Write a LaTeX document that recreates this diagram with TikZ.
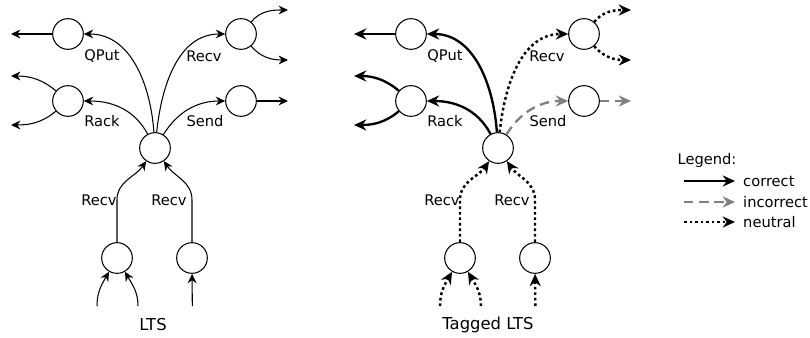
\documentclass[tikz,border=0pt]{standalone}
\usepackage{fontspec}
\setmainfont{DejaVu Sans}
\usepackage{tikz}
\usetikzlibrary{arrows.meta,calc,positioning}
\tikzset{
    % state of the LTS (empty circle)
    state/.style = {draw, circle, line width=0.9pt, minimum size=0.92cm, inner sep=0},
    % plain transition (untagged LTS)
    plain/.style = {line width=0.9pt, -{Stealth[length=8pt,width=7.5pt]}},
    % tagged transitions
    correct/.style = {line width=2pt, -{Stealth[length=10.5pt,width=9.5pt]}},
    incorrect/.style = {line width=2pt, gray, dash pattern=on 8pt off 5pt, -{Stealth[length=10.5pt,width=9.5pt]}},
    neutral/.style = {line width=2.1pt, dash pattern=on 2.3pt off 2.4pt, -{Stealth[length=10.5pt,width=9.5pt]}},
    % transition label
    tlabel/.style = {font=\fontsize{12.5}{14}\selectfont, inner sep=0},
    % caption under each LTS
    caption/.style = {font=\fontsize{14}{16}\selectfont, inner sep=0}
}

\begin{document}
\begin{tikzpicture}[x=0.03cm, y=0.03cm]
\useasboundingbox (0,0) rectangle (810,-338);

% both LTS: name prefix / x offset / style of each tag
\foreach \p/\dx/\cs/\ns/\is in {L/0/plain/plain/plain, T/343/correct/neutral/incorrect}{
  \node [state] (\p c) at (155+\dx,-148) {};
  \node [state] (\p q) at (68+\dx,-34) {};
  \node [state] (\p r) at (68+\dx,-101) {};
  \node [state] (\p v) at (241+\dx,-34) {};
  \node [state] (\p s) at (241+\dx,-101) {};
  \node [state] (\p bl) at (117+\dx,-258) {};
  \node [state] (\p br) at (192+\dx,-258) {};

  % loose ends
  \coordinate (\p q0) at (11+\dx,-34);
  \coordinate (\p r1) at (11+\dx,-76);
  \coordinate (\p r2) at (11+\dx,-125);
  \coordinate (\p v1) at (288+\dx,-10);
  \coordinate (\p v2) at (288+\dx,-60);
  \coordinate (\p s0) at (288+\dx,-101);
  \coordinate (\p i1) at (97+\dx,-306);
  \coordinate (\p i2) at (138+\dx,-306);
  \coordinate (\p i3) at (192.3+\dx,-306);

  \draw [\cs] (\p c) to[out=94,in=0] (\p q);
  \draw [\cs] (\p c) to[out=118,in=0] (\p r);
  \draw [\ns] (\p c) to[out=84,in=180] (\p v);
  \draw [\is] (\p c) to[out=58,in=180] (\p s);

  \draw [\cs] (\p q) -- (\p q0);
  \draw [\cs] (\p r) to[out=140,in=0] (\p r1);
  \draw [\cs] (\p r) to[out=220,in=0] (\p r2);
  \draw [\ns] (\p v) to[out=50,in=180] (\p v1);
  \draw [\ns] (\p v) to[out=-50,in=180] (\p v2);
  \draw [\is] (\p s) -- (\p s0);

  \draw [\ns] (\p bl.north) -- ++(0,42) to[out=90,in=236] (\p c);
  \draw [\ns] (\p br.north) -- ++(0,42) to[out=90,in=304] (\p c);
  \draw [\ns] (\p i1) to[out=90,in=240] (\p bl);
  \draw [\ns] (\p i2) to[out=90,in=300] (\p bl);
  \draw [\ns] (\p i3) -- (\p br);

  \foreach \i/\x/\y/\txt in {lq/102/-56/QPut, lr/102/-121/Rack, lv/204/-56/Recv, ls/205/-121/Send, lbl/99/-200/Recv, lbr/169/-200/Recv}
    \node [tlabel] (\p\i) at (\x+\dx,\y) {\txt};
}

\node [caption] (cap1) at (153,-325) {LTS};
\node [caption] (cap2) at (488,-325) {Tagged LTS};

% legend
\node [tlabel] (leg) at (707,-160) {Legend:};
\foreach \i/\y/\st/\txt in {1/-181/correct/correct, 2/-202/incorrect/incorrect, 3/-222/neutral/neutral}{
  \coordinate (lg\i) at (684,\y);
  \node [tlabel, anchor=west] (lt\i) at (743,\y) {\txt};
  \draw [\st] (lg\i) -- ($(lt\i.west)+(-8,0)$);
}
\end{tikzpicture}
\end{document}
